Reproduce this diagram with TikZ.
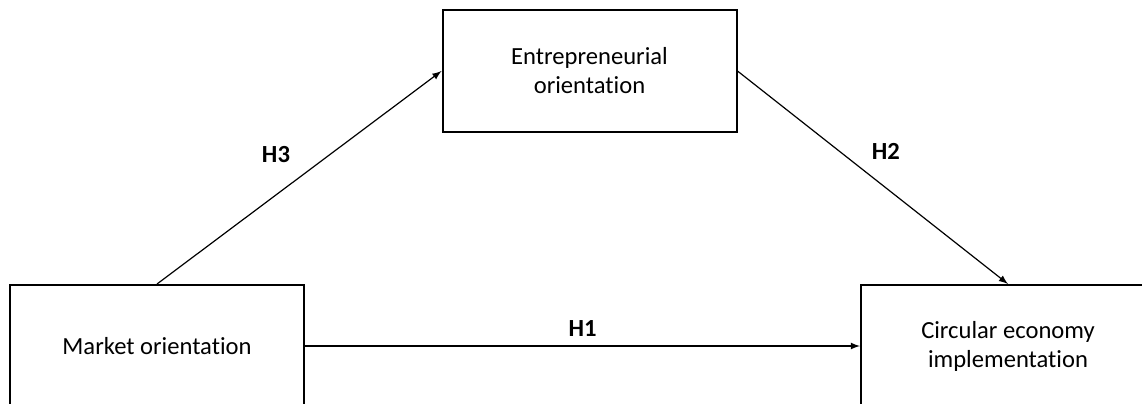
\documentclass[tikz,border=0pt]{standalone}
\usepackage{fontspec}
\setmainfont{Carlito}[Ligatures=NoCommon]
\usepackage{tikz}
\usetikzlibrary{positioning}

\begin{document}
\begin{tikzpicture}[x=0.5pt,y=-0.5pt,>=latex,auto,
    construct/.style={draw,line width=1pt,minimum width=147pt,minimum height=61pt,
        align=center,inner sep=0pt,font=\fontsize{12.3}{14.5}\selectfont},
    hyp/.style={font=\fontsize{12.3}{14}\selectfont\bfseries}]
    \useasboundingbox (0,0) rectangle (1142,403);
    \node[construct] (mo) at (157,346) {Market orientation};
    \node[construct] (eo) at (589.5,71) {Entrepreneurial\\orientation};
    \node[construct] (ce) at (1008,346) {Circular economy\\implementation};

    \path[->,line width=0.6pt]
    (mo.north) edge node[hyp,xshift=-1pt,yshift=4pt] {H3} (eo.west)
    (eo.east) edge node[hyp,pos=0.47,yshift=2pt] {H2} (ce.north)
    (mo.east) edge node[hyp,yshift=1pt] {H1} (ce.west)
    ;
\end{tikzpicture}
\end{document}
